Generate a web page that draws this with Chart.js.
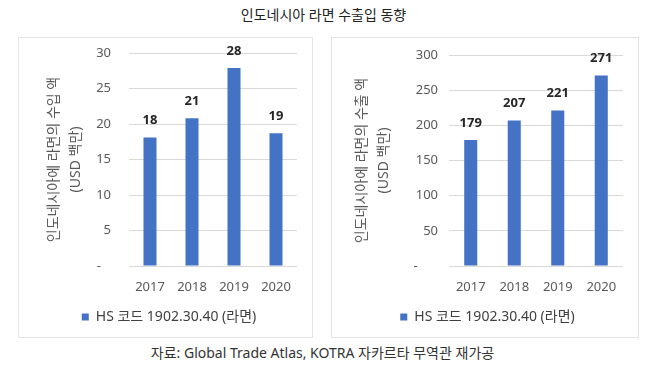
<!DOCTYPE html>
<html>
<head>
<meta charset="utf-8">
<script src="https://cdn.jsdelivr.net/npm/chart.js@4"></script>
<style>
  html, body { margin: 0; padding: 0; background: #fff; }
  body { width: 647px; height: 370px; position: relative; overflow: hidden;
         font-family: "Noto Sans", "Noto Sans CJK KR", sans-serif; }
  .title { position: absolute; left: 0; width: 647px; top: 5px; text-align: center;
           font-size: 14px; color: #222; line-height: 20px; }
  .source { position: absolute; left: 0; width: 645px; top: 343px; text-align: center;
            font-size: 14px; color: #333; line-height: 20px; }
  .box { position: absolute; top: 37px; height: 301px; border: 1px solid #e3e3e3; box-sizing: border-box; }
  .box canvas { display: block; }
</style>
</head>
<body>
<div class="title">인도네시아 라면 수출입 동향</div>
<div class="box" id="b1" style="left:18px;width:295px;"><canvas id="c1"></canvas></div>
<div class="box" id="b2" style="left:331px;width:308px;"><canvas id="c2"></canvas></div>
<div class="source">자료: Global Trade Atlas, KOTRA 자카르타 무역관 재가공</div>
<script>
const categories = ['2017', '2018', '2019', '2020'];
const importValues = [18.1, 20.8, 27.9, 18.7];
const exportValues = [179, 207, 221, 271];
const seriesName = 'HS 코드 1902.30.40 (라면)';
const importTitle = ['인도네시아에 라면의 수입 액', '(USD 백만)'];
const exportTitle = ['인도네시아에 라면의 수출 액', '(USD 백만)'];
const importTicks = { min: 0, max: 30, step: 5 };
const exportTicks = { min: 0, max: 300, step: 50 };

const FONT = '"Noto Sans", "Noto Sans CJK KR", sans-serif';
const BLUE = '#4472C4';

const valueLabels = {
  id: 'valueLabels',
  afterDatasetsDraw(chart) {
    const ctx = chart.ctx;
    ctx.save();
    ctx.font = 'bold 13px ' + FONT;
    ctx.fillStyle = '#262626';
    ctx.textAlign = 'center';
    ctx.textBaseline = 'middle';
    chart.data.datasets.forEach((ds, di) => {
      chart.getDatasetMeta(di).data.forEach((bar, i) => {
        ctx.fillText(String(Math.round(ds.data[i])), bar.x, bar.y - 17);
      });
    });
    ctx.restore();
  }
};

const legendShift = {
  id: 'legendShift',
  afterLayout(chart, args, opts) {
    const lg = chart.legend;
    if (lg) { lg.left += opts.dx; lg.right += opts.dx; }
  }
};

function makeChart(id, w, values, title, tk, opts) {
  const canvas = document.getElementById(id);
  canvas.width = w; canvas.height = 299;
  canvas.style.width = w + 'px'; canvas.style.height = '299px';
  return new Chart(canvas, {
    type: 'bar',
    data: {
      labels: categories,
      datasets: [{ label: seriesName, data: values, backgroundColor: BLUE,
                   barPercentage: opts.barPct, categoryPercentage: 1 }]
    },
    options: {
      responsive: false, animation: false, devicePixelRatio: 1,
      layout: { padding: { top: opts.top, right: 15, bottom: 3, left: 0 } },
      plugins: {
        legend: {
          position: 'bottom',
          labels: { boxWidth: 7, boxHeight: 7, color: '#404040', padding: 4,
                    font: { family: FONT, size: 14 } }
        },
        legendShift: { dx: opts.legendDx },
        tooltip: { enabled: false }
      },
      scales: {
        x: {
          afterFit: s => { s.height = 40; },
          grid: { display: false, drawTicks: false },
          border: { display: false },
          ticks: { color: '#595959', padding: 13, font: { family: FONT, size: 13 } }
        },
        y: {
          min: tk.min, max: tk.max,
          afterFit: s => { s.width = opts.axisW; s.paddingTop = 0; s.paddingBottom = 0; },
          grid: { color: '#d9d9d9', drawTicks: false },
          border: { display: false },
          ticks: {
            stepSize: tk.step, color: '#595959', padding: opts.tickPad,
            font: { family: FONT, size: 13 },
            callback: v => v === 0 ? opts.zero : String(v)
          },
          title: {
            display: true, text: title, color: '#595959',
            font: { family: FONT, size: 14, lineHeight: 1.57 },
            padding: { top: opts.titlePad, bottom: 0 }
          }
        }
      }
    },
    plugins: [valueLabels, legendShift]
  });
}

makeChart('c1', 293, importValues, importTitle, importTicks,
  { barPct: 0.31, top: 15, axisW: 110, tickPad: 18, zero: '-   ', titlePad: 24, legendDx: 11 });
makeChart('c2', 306, exportValues, exportTitle, exportTicks,
  { barPct: 0.30, top: 17, axisW: 117, tickPad: 11, zero: '-      ', titlePad: 19, legendDx: 10 });
</script>
</body>
</html>
